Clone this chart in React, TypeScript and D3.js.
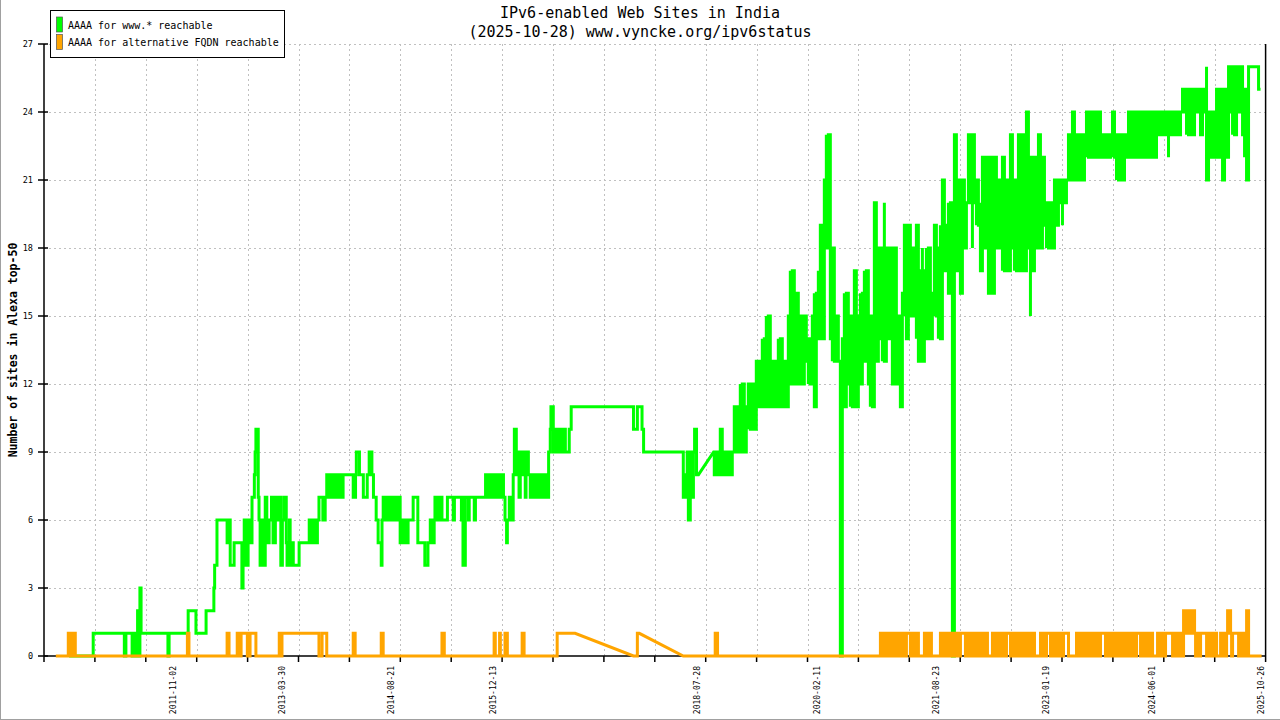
import React from "react";
import * as d3 from "d3";

// ---------- text ----------
const titleLines = ["IPv6-enabled Web Sites in India", "(2025-10-28) www.vyncke.org/ipv6status"];
const yAxisTitle = "Number of sites in Alexa top-50";
const seriesNames = ["AAAA for www.* reachable", "AAAA for alternative FQDN reachable"];
const seriesColors = ["#00ff00", "#ffa500"];

// ---------- axes ----------
const xDomainYears = [2010.178, 2025.87]; // decimal years
const xTickCount = 24; // intervals
const xLabelDates = [
  "2011-11-02", "2013-03-30", "2014-08-21", "2015-12-13", "2018-07-28",
  "2020-02-11", "2021-08-23", "2023-01-19", "2024-06-01", "2025-10-26",
];
const yTicks = [0, 3, 6, 9, 12, 15, 18, 21, 24, 27];

// ---------- data: [decimal year, value, linearToNext?] ----------
const greenSeries: [number, number, number?][] = [
  [2010.50,0],[2010.81,1],[2011.21,0],[2011.23,1],[2011.31,0],[2011.33,1],[2011.36,0],[2011.38,2],[2011.40,0],[2011.41,3],[2011.425,1],
  [2011.77,0],[2011.785,1],[2012.03,2],[2012.13,1],[2012.26,2],[2012.36,3],[2012.37,4],[2012.40,6],[2012.53,5],[2012.54,6],[2012.57,4],
  [2012.62,5],[2012.72,3],[2012.735,5],[2012.75,6],[2012.77,4],[2012.80,6],[2012.825,5],[2012.85,7],[2012.88,8],[2012.89,9],[2012.90,10],
  [2012.93,7],[2012.94,6],[2012.954,4],[2012.99,6],[2013.005,4],[2013.02,7],[2013.04,5],[2013.07,6],[2013.10,7],[2013.12,5],[2013.15,7],
  [2013.17,6],[2013.20,7],[2013.22,4],[2013.24,6],[2013.26,7],[2013.29,5],[2013.30,4],[2013.33,6],[2013.34,4],[2013.37,5],[2013.38,4],
  [2013.455,5],[2013.585,6],[2013.61,5],[2013.64,6],[2013.66,5],[2013.69,6],[2013.71,7],[2013.76,6],[2013.79,7],[2013.81,8],[2013.84,7],
  [2013.854,8],[2013.89,7],[2013.905,8],[2013.93,7],[2013.945,8],[2013.97,7],[2013.98,8],[2014.01,7],[2014.02,8],[2014.15,7],[2014.18,8],
  [2014.19,9],[2014.23,8],[2014.28,7],[2014.33,8],[2014.355,9],[2014.39,8],[2014.41,7],[2014.445,6],[2014.47,5],[2014.51,4],[2014.52,6],
  [2014.535,7],[2014.56,6],[2014.57,7],[2014.60,6],[2014.61,7],[2014.64,6],[2014.65,7],[2014.675,6],[2014.69,7],[2014.715,6],[2014.74,7],
  [2014.753,5],[2014.77,6],[2014.79,5],[2014.805,6],[2014.83,5],[2014.855,6],[2014.92,7],[2014.98,5],[2015.07,4],[2015.11,5],[2015.14,6],
  [2015.165,5],[2015.19,6],[2015.20,7],[2015.23,6],[2015.255,7],[2015.29,6],[2015.36,7],[2015.435,6],[2015.45,7],[2015.54,6],[2015.55,7],
  [2015.56,4],[2015.59,7],[2015.63,6],[2015.64,7],[2015.705,6],[2015.72,7],[2015.85,8],[2015.87,7],[2015.90,8],[2015.92,7],[2015.95,8],
  [2015.975,7],[2016.00,8],[2016.03,7],[2016.05,8],[2016.08,7],[2016.10,6],[2016.12,5],[2016.13,6],[2016.155,7],[2016.18,6],[2016.205,8],
  [2016.22,10],[2016.245,8],[2016.26,9],[2016.28,7],[2016.296,9],[2016.32,8],[2016.335,9],[2016.36,7],[2016.37,9],[2016.40,8],[2016.424,7],
  [2016.45,8],[2016.475,7],[2016.50,8],[2016.53,7],[2016.553,8],[2016.58,7],[2016.60,8],[2016.63,7],[2016.66,9],[2016.681,10],[2016.69,11],
  [2016.72,9],[2016.745,10],[2016.77,9],[2016.795,10],[2016.82,9],[2016.85,10],[2016.875,9],[2016.925,10],[2016.95,11],[2017.75,10],
  [2017.80,11],[2017.86,10],[2017.88,9],[2018.39,7],[2018.42,8],[2018.43,7],[2018.44,9],[2018.455,6],[2018.48,9],[2018.51,7],[2018.52,9],
  [2018.535,10],[2018.56,8],[2018.585,8,1],[2018.78,9],
];

// from late 2018 the www.* series changes almost daily: for each ~9.4-day period the
// lowest and highest value read in that period
const greenDenseStart = 2018.788;
const greenDenseStep = 0.025704;
const greenDenseRange: [number, number][] = [
  [8,9],[8,9],[8,9],[8,10],[8,10],
  [8,9],[8,9],[8,9],[8,9],[8,9],
  [9,11],[9,11],[9,11],[9,12],[9,12],
  [9,11],[9,11],[10,12],[10,12],[10,12],
  [10,12],[11,13],[11,13],[11,13],[11,14],
  [11,14],[11,15],[11,15],[11,13],[11,13],
  [11,13],[11,13],[11,14],[11,14],[11,14],
  [11,13],[11,13],[12,15],[12,17],[12,17],
  [12,16],[12,16],[12,15],[12,15],[12,15],
  [13,15],[13,15],[12,14],[12,14],[12,15],
  [11,16],[11,16],[14,17],[14,19],[14,19],
  [15,21],[18,23],[18,23],[14,18],[13,18],
  [13,18],[13,15],[13,15],[0,13],[11,14],
  [11,16],[12,16],[12,16],[11,15],[11,15],
  [11,17],[11,17],[11,15],[12,16],[12,16],
  [13,17],[13,17],[12,16],[11,15],[11,15],
  [12,20],[13,18],[13,18],[14,17],[13,18],
  [13,20],[14,18],[14,18],[15,18],[12,18],
  [12,18],[12,18],[12,15],[11,15],[11,16],
  [15,19],[14,18],[14,19],[15,19],[15,18],
  [15,18],[14,19],[13,18],[13,17],[13,18],
  [14,17],[14,18],[14,18],[14,16],[14,16],
  [15,19],[15,19],[14,18],[14,19],[16,21],
  [17,21],[17,19],[16,20],[16,20],[0,20],
  [18,23],[17,21],[17,21],[16,21],[17,21],
  [18,21],[18,20],[20,23],[20,23],[18,23],
  [20,23],[19,21],[19,21],[17,20],[18,22],
  [18,22],[18,22],[16,21],[16,22],[16,22],
  [18,22],[18,22],[18,21],[18,21],[17,22],
  [17,22],[17,21],[17,21],[18,23],[18,23],
  [17,21],[17,21],[17,23],[17,23],[17,23],
  [17,22],[18,24],[18,24],[15,22],[17,22],
  [17,22],[18,20],[18,23],[18,22],[18,22],
  [19,21],[18,20],[18,20],[18,20],[18,20],
  [19,21],[19,21],[20,21],[20,21],[19,21],
  [20,21],[20,21],[21,23],[21,23],[21,24],
  [21,24],[22,23],[21,23],[21,23],[21,23],
  [22,23],[22,24],[22,24],[22,24],[22,24],
  [22,24],[22,24],[22,24],[22,23],[22,23],
  [22,23],[22,23],[22,23],[22,23],[22,24],
  [22,23],[21,23],[21,23],[22,23],[21,23],
  [22,23],[22,23],[22,24],[22,24],[22,24],
  [22,24],[22,24],[22,24],[22,24],[22,24],
  [22,24],[22,24],[22,24],[22,24],[22,24],
  [22,24],[22,24],[23,24],[23,24],[23,24],
  [23,24],[23,24],[22,24],[23,24],[23,24],
  [23,24],[23,24],[23,24],[23,24],[24,25],
  [24,25],[23,25],[23,25],[23,25],[23,25],
  [23,25],[24,25],[24,25],[23,25],[24,25],
  [24,25],[21,26],[22,24],[22,24],[22,24],
  [22,24],[22,25],[22,25],[22,25],[21,25],
  [23,25],[22,25],[22,26],[24,26],[23,26],
  [23,26],[24,26],[24,25],[24,26],[23,25],
  [22,25],[21,25],[26,26],[26,26],[26,26],
  [26,26],[26,26],[25,26],[25,25],
];

const orangeSeries: [number, number, number?][] = [
  [2010.33,0],[2010.49,1],[2010.51,0],[2010.525,1],[2010.55,0],[2010.565,1],[2010.58,0],[2012.02,1],[2012.04,0],[2012.53,1],[2012.555,0],
  [2012.66,1],[2012.685,0],[2012.71,1],[2012.79,0],[2012.825,1],[2012.90,0],[2013.20,1],[2013.22,0],[2013.235,1],[2013.71,0],[2013.75,1],
  [2013.81,0],[2014.15,1],[2014.175,0],[2014.51,1],[2014.535,0],[2015.29,1],[2015.32,0],[2015.96,1],[2015.975,0],[2016.03,1],[2016.04,0],
  [2016.10,1],[2016.13,0],[2016.32,1],[2016.345,0],[2016.77,1],[2017.00,1,1],[2017.75,0],[2017.80,1],[2017.825,1,1],[2018.39,0],
  [2018.80,1],[2018.83,0],
];

// dense part of the alternative-FQDN series: one reading every ~4.7 days from late 2020
const orangeDenseStart = 2020.922;
const orangeDenseStep = 0.012852;
const orangeDense = [
  1,0,1,0,1,0,1,0,1,0,1,0,1,0,1,0,1,0,1,0,1,0,1,0,1,0,
  1,1,1,1,
  0,1,0,1,0,1,0,1,0,
  0,0,0,0,0,
  1,0,1,0,1,0,1,0,
  0,0,0,0,0,0,0,0,
  1,0,1,0,1,0,1,0,1,0,
  1,0,1,0,1,0,1,0,1,0,1,
  1,1,1,1,
  0,1,0,1,0,1,0,1,0,1,0,1,0,1,0,1,0,1,0,1,0,1,0,
  0,0,0,0,
  1,0,1,0,1,0,1,0,1,0,1,0,1,0,
  1,1,1,1,
  0,1,0,1,0,1,0,1,0,1,0,1,0,1,0,1,0,1,0,1,0,1,0,1,
  0,0,0,0,0,0,
  1,0,1,0,1,0,
  1,1,1,1,
  0,1,0,1,0,1,0,1,0,1,0,1,0,
  1,1,1,1,1,
  0,0,0,0,0,0,0,0,
  1,0,1,0,1,0,1,0,1,0,1,0,1,0,1,0,1,0,1,0,1,0,1,0,1,
  1,1,1,1,
  0,1,0,1,0,1,0,1,0,1,0,1,0,1,0,1,0,1,0,1,0,1,0,1,0,1,0,1,0,1,0,
  1,1,1,1,
  0,1,0,1,0,1,0,1,0,1,0,1,
  0,0,0,0,0,
  1,0,1,0,1,0,1,0,1,
  1,1,1,1,1,1,
  0,1,0,1,0,1,0,1,0,1,0,
  2,1,2,1,2,1,2,1,2,1,2,
  1,0,1,0,1,0,1,
  1,1,1,1,1,
  0,1,0,1,0,1,0,1,0,1,
  0,0,0,0,
  1,0,1,0,1,0,1,
  2,1,2,
  1,0,1,
  1,1,1,1,1,
  0,1,0,1,0,1,0,1,
  2,2,
  0,0,0,0,0,0,0,0,0,0,0,0,0,0,
];

function dateToYear(s: string): number {
  const d = d3.utcParse("%Y-%m-%d")(s) as Date;
  const y = d.getUTCFullYear();
  const start = Date.UTC(y, 0, 1);
  const end = Date.UTC(y + 1, 0, 1);
  return y + (d.getTime() - start) / (end - start);
}

const MONO = "'DejaVu Sans Mono', 'Liberation Mono', monospace";

export default function App() {
  const W = 1280, H = 720;
  const left = 44, right = 1265.6, top = 44, bottom = 656;
  const x = d3.scaleLinear().domain(xDomainYears).range([left, right]);
  const y = d3.scaleLinear().domain([0, 27]).range([bottom, top]);

  // step-after path; a third element set to 1 draws a straight line to the next reading (gap in data)
  const stepPath = (pts: [number, number, number?][], p: d3.Path) => {
    pts.forEach((pt, i) => {
      const px = x(pt[0]), py = y(pt[1]);
      if (i === 0) p.moveTo(px, py);
      else if (pts[i - 1][2]) p.lineTo(px, py);
      else {
        p.lineTo(px, y(pts[i - 1][1]));
        p.lineTo(px, py);
      }
    });
    return pts.length ? pts[pts.length - 1][1] : 0;
  };

  const greenPath = (() => {
    const p = d3.path();
    let cur = stepPath(greenSeries, p);
    greenDenseRange.forEach(([lo, hi], i) => {
      const px = x(greenDenseStart + i * greenDenseStep);
      p.lineTo(px, y(cur));
      const first = Math.abs(cur - lo) <= Math.abs(cur - hi) ? lo : hi;
      const last = first === lo ? hi : lo;
      p.lineTo(px, y(first));
      p.lineTo(px, y(last));
      cur = last;
    });
    return p.toString();
  })();

  const orangePath = (() => {
    const p = d3.path();
    const all: [number, number, number?][] = [
      ...orangeSeries,
      ...orangeDense.map((v, i) => [orangeDenseStart + i * orangeDenseStep, v] as [number, number]),
    ];
    stepPath(all, p);
    return p.toString();
  })();

  const span = xDomainYears[1] - xDomainYears[0];
  const xTicks = d3.range(xTickCount + 1).map((i) => xDomainYears[0] + (i * span) / xTickCount);

  return (
    <div style={{ position: "fixed", left: 0, top: 0, width: W, height: H, background: "#fff" }}>
      <svg width={W} height={H} style={{ display: "block" }} fontFamily={MONO}>
        <rect x={0} y={0} width={W} height={H} fill="#fff" />
        {/* outer frame */}
        <line x1={0.5} y1={0} x2={0.5} y2={H} stroke="#a0a0a0" />
        <line x1={0} y1={H - 0.5} x2={W} y2={H - 0.5} stroke="#a0a0a0" />

        {/* grid */}
        <g stroke="#c0c0c0" strokeWidth={1} strokeDasharray="2,3">
          {yTicks.filter((t) => t > 0).map((t) => (
            <line key={"gy" + t} x1={left} x2={right} y1={Math.round(y(t)) + 0.5} y2={Math.round(y(t)) + 0.5} />
          ))}
          {xTicks.slice(1, -1).map((t, i) => (
            <line key={"gx" + i} x1={Math.round(x(t)) + 0.5} x2={Math.round(x(t)) + 0.5} y1={top} y2={bottom} />
          ))}
        </g>

        {/* axes */}
        <g stroke="#000" strokeWidth={1.5}>
          <line x1={left} x2={left} y1={top} y2={bottom} />
          <line x1={right} x2={right} y1={top} y2={bottom} />
          <line x1={left} x2={right} y1={bottom} y2={bottom} />
          {yTicks.map((t) => (
            <line key={"ty" + t} x1={left - 6} x2={left + 4} y1={y(t)} y2={y(t)} />
          ))}
          {xTicks.map((t, i) => (
            <line key={"tx" + i} x1={x(t)} x2={x(t)} y1={bottom} y2={bottom + 6} />
          ))}
        </g>

        {/* series */}
        <path d={greenPath} fill="none" stroke={seriesColors[0]} strokeWidth={3} />
        <path d={orangePath} fill="none" stroke={seriesColors[1]} strokeWidth={3} />

        {/* y tick labels */}
        <g fontSize={8.5} fill="#000" textAnchor="end">
          {yTicks.map((t) => (
            <text key={"ly" + t} x={33} y={y(t)} dy="0.35em">{t}</text>
          ))}
        </g>

        {/* x tick labels */}
        <g fontSize={8} fill="#000" textAnchor="end">
          {xLabelDates.map((s) => {
            const px = x(dateToYear(s));
            return (
              <text key={s} transform={`translate(${px},${bottom + 10}) rotate(-90)`} dy="0.35em">{s}</text>
            );
          })}
        </g>

        {/* y axis title */}
        <text
          transform={`translate(13,350) rotate(-90)`}
          textAnchor="middle"
          dy="0.35em"
          fontSize={11.5}
          fontWeight="bold"
          fill="#000"
        >
          {yAxisTitle}
        </text>

        {/* title */}
        <g fontSize={15} fill="#000" textAnchor="middle">
          <text x={640} y={18}>{titleLines[0]}</text>
          <text x={640} y={37}>{titleLines[1]}</text>
        </g>

        {/* legend */}
        <g>
          <rect x={50.5} y={10.5} width={234} height={47} fill="#fff" stroke="#000" strokeWidth={1} />
          {seriesNames.map((n, i) => (
            <g key={n}>
              <rect x={56.5} y={17 + i * 17.5} width={6} height={15} fill={seriesColors[i]} stroke="#555" strokeWidth={0.7} />
              <text x={68} y={29 + i * 17} fontSize={10} fill="#000">{n}</text>
            </g>
          ))}
        </g>
      </svg>
    </div>
  );
}
